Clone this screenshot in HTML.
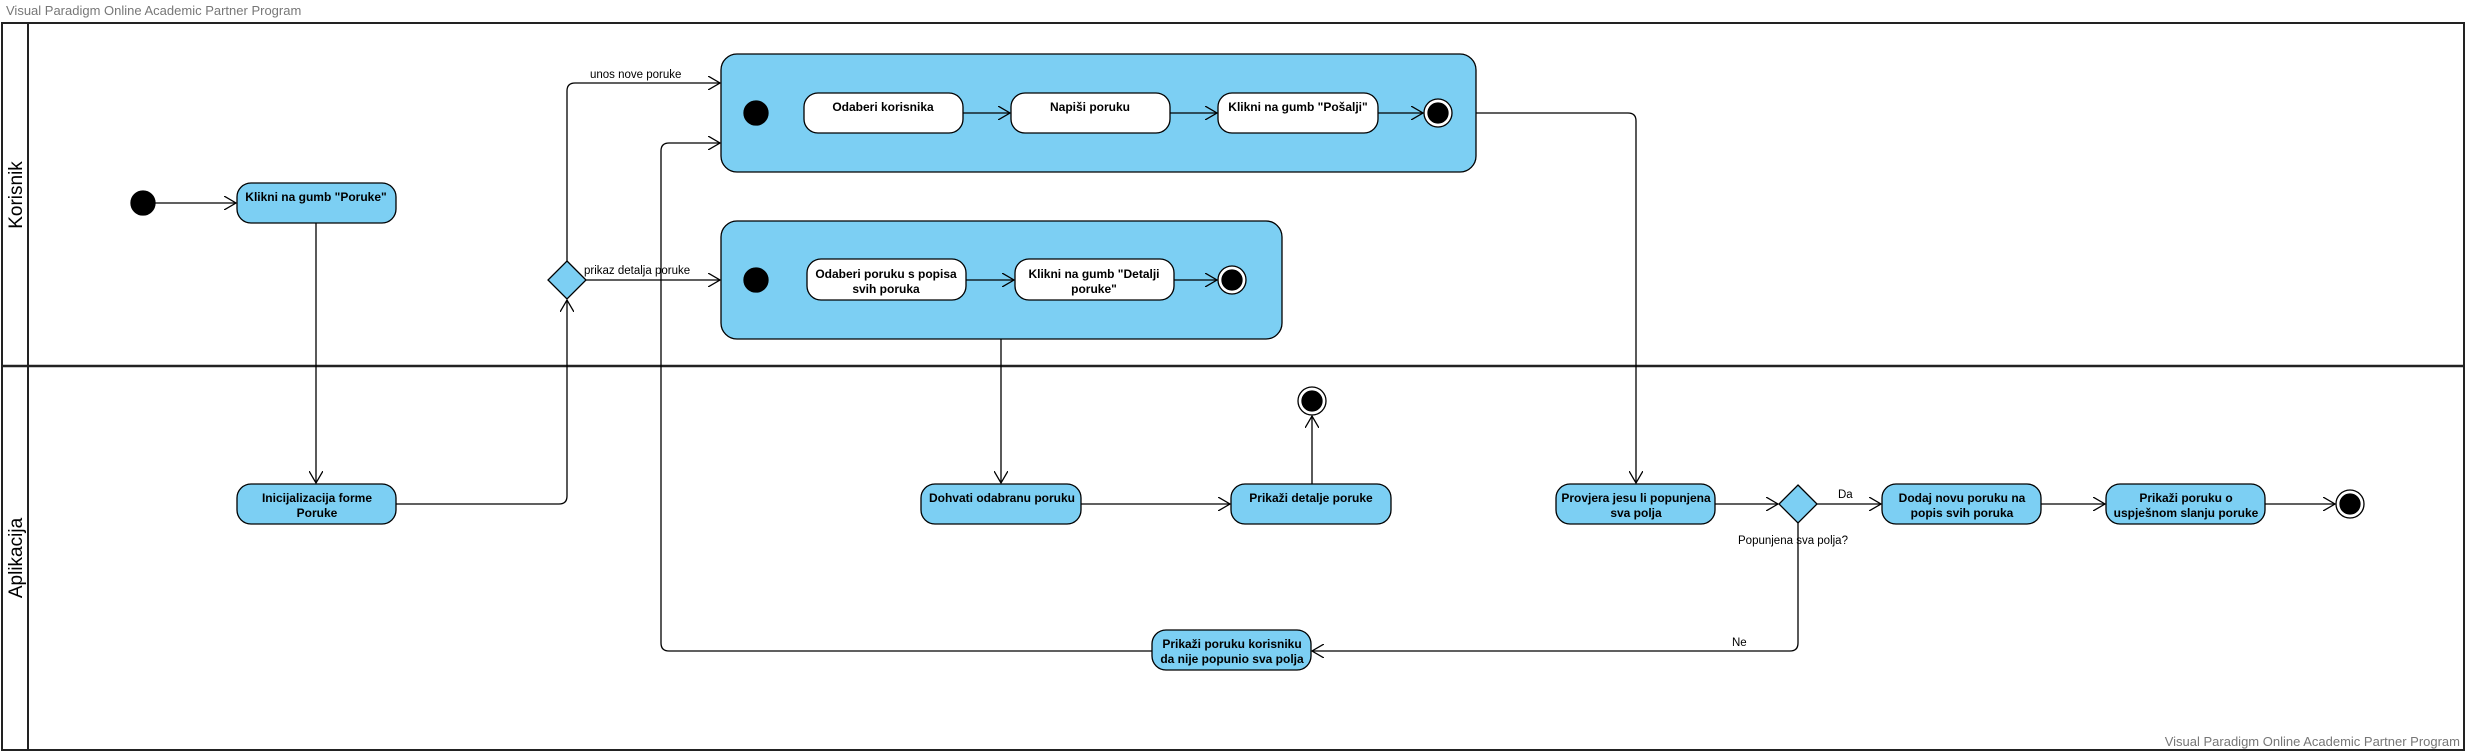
<!DOCTYPE html>
<html><head><meta charset="utf-8"><style>
html,body{margin:0;padding:0;background:#fff;}
svg{display:block;}
text{font-family:"Liberation Sans",sans-serif;}
.b{font-weight:bold;font-size:12px;fill:#000;text-anchor:middle;}
.l{font-size:11.5px;fill:#000;}
</style></head><body>
<svg width="2466" height="752" viewBox="0 0 2466 752" xmlns="http://www.w3.org/2000/svg">
<defs>
<marker id="a" markerWidth="14" markerHeight="14" refX="12" refY="7" orient="auto" markerUnits="userSpaceOnUse">
<path d="M0,0 L12,7 L0,14" fill="none" stroke="#000" stroke-width="1.3"/>
</marker>
</defs>
<text x="6" y="15" font-size="13" fill="#777">Visual Paradigm Online Academic Partner Program</text>
<text x="2460" y="746" font-size="13" fill="#777" text-anchor="end">Visual Paradigm Online Academic Partner Program</text>
<rect x="2" y="23" width="2462" height="727" fill="none" stroke="#222" stroke-width="2"/>
<line x1="28" y1="23" x2="28" y2="750" stroke="#222" stroke-width="2"/>
<line x1="2" y1="366" x2="2464" y2="366" stroke="#222" stroke-width="2.5"/>
<text transform="translate(22,195) rotate(-90)" font-size="19" text-anchor="middle">Korisnik</text>
<text transform="translate(22,558) rotate(-90)" font-size="19" text-anchor="middle">Aplikacija</text>

<g stroke="#000" stroke-width="1.3" fill="none">
<line x1="155" y1="203" x2="236" y2="203" marker-end="url(#a)"/>
<line x1="316" y1="223" x2="316" y2="483" marker-end="url(#a)"/>
<path d="M396,504 H559 Q567,504 567,496 V300" marker-end="url(#a)"/>
<path d="M567,261 V91 Q567,83 575,83 H720" marker-end="url(#a)"/>
<line x1="586" y1="280" x2="720" y2="280" marker-end="url(#a)"/>
<path d="M1152,651 H669 Q661,651 661,643 V151 Q661,143 669,143 H720" marker-end="url(#a)"/>
<path d="M1476,113 H1628 Q1636,113 1636,121 V483" marker-end="url(#a)"/>
<line x1="1001" y1="339" x2="1001" y2="483" marker-end="url(#a)"/>
<line x1="1081" y1="504" x2="1230" y2="504" marker-end="url(#a)"/>
<line x1="1312" y1="484" x2="1312" y2="416" marker-end="url(#a)"/>
<line x1="1715" y1="504" x2="1778" y2="504" marker-end="url(#a)"/>
<line x1="1817" y1="504" x2="1881" y2="504" marker-end="url(#a)"/>
<line x1="2041" y1="504" x2="2105" y2="504" marker-end="url(#a)"/>
<line x1="2265" y1="504" x2="2335" y2="504" marker-end="url(#a)"/>
<path d="M1798,523 V643 Q1798,651 1790,651 H1312" marker-end="url(#a)"/>
</g>

<g stroke="#000" stroke-width="1.3">
<rect x="721" y="54" width="755" height="118" rx="16" fill="#7ccff3"/>
<rect x="721" y="221" width="561" height="118" rx="16" fill="#7ccff3"/>
</g>

<g stroke="#000" stroke-width="1.3" fill="none">
<line x1="963" y1="113" x2="1010" y2="113" marker-end="url(#a)"/>
<line x1="1170" y1="113" x2="1217" y2="113" marker-end="url(#a)"/>
<line x1="1378" y1="113" x2="1423" y2="113" marker-end="url(#a)"/>
<line x1="966" y1="280" x2="1014" y2="280" marker-end="url(#a)"/>
<line x1="1174" y1="280" x2="1217" y2="280" marker-end="url(#a)"/>
</g>

<g stroke="#000" stroke-width="1.3">
<circle cx="143" cy="203" r="12" fill="#000"/>
<circle cx="756" cy="113" r="12" fill="#000"/>
<circle cx="756" cy="280" r="12" fill="#000"/>
<rect x="237" y="183" width="159" height="40" rx="14" fill="#7ccff3"/>
<rect x="804" y="93" width="159" height="40" rx="14" fill="#fff"/>
<rect x="1011" y="93" width="159" height="40" rx="14" fill="#fff"/>
<rect x="1218" y="93" width="160" height="40" rx="14" fill="#fff"/>
<rect x="807" y="259" width="159" height="41" rx="14" fill="#fff"/>
<rect x="1015" y="259" width="159" height="41" rx="14" fill="#fff"/>
<rect x="237" y="484" width="159" height="40" rx="14" fill="#7ccff3"/>
<rect x="921" y="484" width="160" height="40" rx="14" fill="#7ccff3"/>
<rect x="1231" y="484" width="160" height="40" rx="14" fill="#7ccff3"/>
<rect x="1556" y="484" width="159" height="40" rx="14" fill="#7ccff3"/>
<rect x="1882" y="484" width="159" height="40" rx="14" fill="#7ccff3"/>
<rect x="2106" y="484" width="159" height="40" rx="14" fill="#7ccff3"/>
<rect x="1152" y="630" width="159" height="40" rx="14" fill="#7ccff3"/>
<polygon points="567,261 586,280 567,299 548,280" fill="#7ccff3"/>
<polygon points="1798,485 1817,504 1798,523 1779,504" fill="#7ccff3"/>
<circle cx="1438" cy="113" r="14" fill="#fff"/><circle cx="1438" cy="113" r="10" fill="#000"/>
<circle cx="1232" cy="280" r="14" fill="#fff"/><circle cx="1232" cy="280" r="10" fill="#000"/>
<circle cx="1312" cy="401" r="14" fill="#fff"/><circle cx="1312" cy="401" r="10" fill="#000"/>
<circle cx="2350" cy="504" r="14" fill="#fff"/><circle cx="2350" cy="504" r="10" fill="#000"/>
</g>

<text class="b" x="316" y="201">Klikni na gumb "Poruke"</text>
<text class="b" x="883" y="111">Odaberi korisnika</text>
<text class="b" x="1090" y="111">Napiši poruku</text>
<text class="b" x="1298" y="111">Klikni na gumb "Pošalji"</text>
<text class="b" x="886" y="278">Odaberi poruku s popisa</text>
<text class="b" x="886" y="293">svih poruka</text>
<text class="b" x="1094" y="278">Klikni na gumb "Detalji</text>
<text class="b" x="1094" y="293">poruke"</text>
<text class="b" x="317" y="502">Inicijalizacija forme</text>
<text class="b" x="317" y="517">Poruke</text>
<text class="b" x="1002" y="502">Dohvati odabranu poruku</text>
<text class="b" x="1311" y="502">Prikaži detalje poruke</text>
<text class="b" x="1636" y="502">Provjera jesu li popunjena</text>
<text class="b" x="1636" y="517">sva polja</text>
<text class="b" x="1962" y="502">Dodaj novu poruku na</text>
<text class="b" x="1962" y="517">popis svih poruka</text>
<text class="b" x="2186" y="502">Prikaži poruku o</text>
<text class="b" x="2186" y="517">uspješnom slanju poruke</text>
<text class="b" x="1232" y="648">Prikaži poruku korisniku</text>
<text class="b" x="1232" y="663">da nije popunio sva polja</text>

<text class="l" x="590" y="78">unos nove poruke</text>
<text class="l" x="584" y="274">prikaz detalja poruke</text>
<text class="l" x="1838" y="498">Da</text>
<text class="l" x="1738" y="544">Popunjena sva polja?</text>
<text class="l" x="1732" y="646">Ne</text>
</svg>
</body></html>
